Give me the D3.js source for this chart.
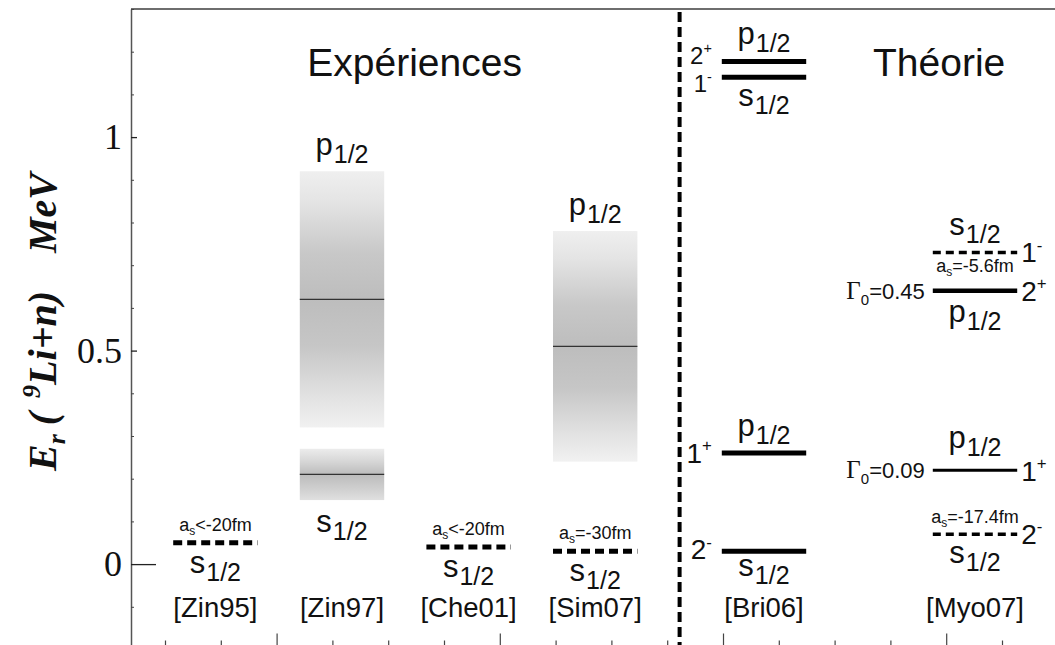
<!DOCTYPE html>
<html>
<head>
<meta charset="utf-8">
<script src="https://cdn.jsdelivr.net/npm/d3@7"></script>
<style>
  body { margin: 0; background: #fff; }
  svg { display: block; font-family: "Liberation Sans", Arial, sans-serif; }
</style>
</head>
<body>
<svg id="chart" width="1055" height="645"></svg>
<script>
// columns: reference and its place on the x axis (axis units)
var refs   = ["Zin95", "Zin97", "Che01", "Sim07", "Bri06", "Myo07"];
var refPos = [2, 5, 8, 11, 15, 20];
var separatorPos = 13;

// sharp levels (MeV)
var lvRef   = ["Zin95", "Che01", "Sim07", "Bri06", "Bri06", "Bri06", "Bri06", "Myo07", "Myo07", "Myo07", "Myo07"];
var lvE     = [0.05, 0.04, 0.03, 1.177, 1.14, 0.26, 0.03, 0.73, 0.64, 0.22, 0.07];
var lvWave  = ["s", "s", "s", "p", "s", "p", "s", "s", "p", "p", "s"];
var lvSpin  = [null, null, null, ["2", "+"], ["1", "-"], ["1", "+"], ["2", "-"], ["1", "-"], ["2", "+"], ["1", "+"], ["2", "-"]];
var lvAs    = ["<-20fm", "<-20fm", "=-30fm", null, null, null, null, "=-5.6fm", null, null, "=-17.4fm"];
var lvGamma = [null, null, null, null, null, null, null, null, "0.45", "0.09", null];

// measured resonance bands (MeV): centre, low and high edge
var bandRef  = ["Zin97", "Zin97", "Sim07"];
var bandE    = [0.62, 0.21, 0.51];
var bandLo   = [0.32, 0.15, 0.24];
var bandHi   = [0.92, 0.27, 0.78];
var bandWave = ["p", "s", "p"];

var yTicks = [0, 0.5, 1];
var yMinor = [-0.2, -0.1, 0.1, 0.2, 0.3, 0.4, 0.6, 0.7, 0.8, 0.9, 1.1, 1.2, 1.3];
var xTicks = [0, 1, 2, 3, 4, 5, 6, 7, 8, 9, 10, 11, 12, 13, 14, 15];

var svg = d3.select("#chart");

var x = d3.scaleLinear().domain([0, 22.5]).range([131, 131 + 22.5 * 42.2]);
var y = d3.scaleLinear().domain([-0.2, 1.3]).range([649.5, 9]);
var xt = d3.scaleLinear().domain([0, 15]).range([165, 1002]);
var half = x(1) - x(0);

function colX(r) { return x(refPos[refs.indexOf(r)]); }

// gradients for the bands
var defs = svg.append("defs");
function grad(id, stops) {
  var g = defs.append("linearGradient").attr("id", id)
      .attr("x1", 0).attr("y1", 0).attr("x2", 0).attr("y2", 1);
  stops.forEach(function (s) {
    g.append("stop").attr("offset", s[0]).attr("stop-color", s[1]);
  });
}
grad("gp", [[0, "#efefef"], [0.12, "#e4e4e4"], [0.32, "#c8c8c8"], [0.5, "#bdbdbd"], [0.68, "#c6c6c6"], [0.88, "#e2e2e2"], [1, "#f1f1f1"]]);
grad("gs", [[0, "#ececec"], [0.25, "#d6d6d6"], [0.5, "#bcbcbc"], [0.75, "#cdcdcd"], [1, "#e0e0e0"]]);

// frame
svg.append("line").attr("x1", 131).attr("x2", 1055).attr("y1", 9).attr("y2", 9)
    .attr("stroke", "#6e6e6e").attr("stroke-width", 2);

// y axis
var yAxis = svg.append("g").attr("transform", "translate(131,0)")
    .call(d3.axisLeft(y).tickValues(yTicks).tickSize(-6).tickSizeOuter(0).tickPadding(9)
      .tickFormat(function (d) { return d; }));
yAxis.select(".domain").attr("stroke", "#555").attr("stroke-width", 1.5);
yAxis.selectAll(".tick line").attr("stroke", "#222").attr("stroke-width", 1.3);
yAxis.selectAll(".tick").filter(function (d) { return d === 0; }).select("line").attr("x2", 25);
yAxis.selectAll(".tick text")
    .attr("font-family", "'Liberation Serif', 'Times New Roman', serif")
    .attr("font-size", 36).attr("fill", "#111");

var yMin = svg.append("g").attr("transform", "translate(131,0)")
    .call(d3.axisLeft(y).tickValues(yMinor).tickSize(-3).tickFormat(""));
yMin.select(".domain").remove();
yMin.selectAll(".tick line").attr("stroke", "#444");

// bottom axis (only the ticks are inside the picture)
var xAxis = svg.append("g").attr("transform", "translate(0,649.5)")
    .call(d3.axisBottom(xt).tickValues(xTicks).tickSize(-9).tickFormat(""));
xAxis.select(".domain").remove();
xAxis.selectAll(".tick line").attr("stroke", "#444").attr("stroke-width", 1.2);
xAxis.selectAll(".tick").filter(function (d) { return d % 4 === 2; }).select("line").attr("y2", -16);

// axis title
var yt = svg.append("text")
    .attr("transform", "translate(56,322) rotate(-90)")
    .attr("text-anchor", "middle")
    .attr("font-family", "'Liberation Serif', 'Times New Roman', serif")
    .attr("font-weight", "bold").attr("font-style", "italic")
    .attr("font-size", 40).attr("fill", "#111");
yt.append("tspan").text("E");
yt.append("tspan").attr("font-size", 26).attr("dy", 9).text("r");
yt.append("tspan").attr("dy", -9).attr("dx", 9).text("(");
yt.append("tspan").attr("font-size", 26).attr("dy", -16).attr("dx", 14).text("9");
yt.append("tspan").attr("dy", 16).text("Li+n)");
yt.append("tspan").attr("dx", 38).text("MeV");

// separator between experiment and theory
svg.append("line")
    .attr("x1", x(separatorPos)).attr("x2", x(separatorPos))
    .attr("y1", 12).attr("y2", 645)
    .attr("stroke", "#000").attr("stroke-width", 4).attr("stroke-dasharray", "10,5");

// titles
svg.append("text").attr("x", x(6.72)).attr("y", 76).attr("text-anchor", "middle")
    .attr("font-size", 39).attr("fill", "#111").text("Expériences");
svg.append("text").attr("x", x(19.15)).attr("y", 76).attr("text-anchor", "middle")
    .attr("font-size", 39).attr("fill", "#111").text("Théorie");

// helpers for labels
function waveLabel(cx, yy, wave) {
  var t = svg.append("text").attr("x", cx).attr("y", yy).attr("text-anchor", "middle")
      .attr("font-size", 31).attr("fill", "#111");
  t.append("tspan").text(wave);
  t.append("tspan").attr("font-size", 25).attr("dy", 8).attr("dx", 1).text("1/2");
}
function asLabel(cx, yy, txt) {
  var t = svg.append("text").attr("x", cx).attr("y", yy).attr("text-anchor", "middle")
      .attr("font-size", 18).attr("fill", "#111");
  t.append("tspan").text("a");
  t.append("tspan").attr("font-size", 12).attr("dy", 4).text("s");
  t.append("tspan").attr("dy", -4).text(txt);
}
function spinLabel(xx, yy, anchor, s, fs) {
  var t = svg.append("text").attr("x", xx).attr("y", yy).attr("text-anchor", anchor)
      .attr("font-size", fs).attr("fill", "#111");
  t.append("tspan").text(s[0]);
  t.append("tspan").attr("font-size", fs * 0.6).attr("dy", -fs * 0.42).text(s[1]);
}
function gammaLabel(xx, yy, g) {
  var t = svg.append("text").attr("x", xx).attr("y", yy).attr("text-anchor", "end")
      .attr("font-size", 22).attr("fill", "#111");
  t.append("tspan").attr("font-family", "'Liberation Serif', serif").attr("font-size", 25).text("Γ");
  t.append("tspan").attr("font-size", 15).attr("dy", 6).text("0");
  t.append("tspan").attr("dy", -6).text("=" + g);
}

// bands
var bands = bandRef.map(function (r, i) {
  return { ref: r, e: bandE[i], lo: bandLo[i], hi: bandHi[i], wave: bandWave[i] };
});
var bandG = svg.append("g");
bandG.selectAll("rect").data(bands).join("rect")
    .attr("x", function (d) { return colX(d.ref) - half; })
    .attr("width", 2 * half)
    .attr("y", function (d) { return y(d.hi); })
    .attr("height", function (d) { return y(d.lo) - y(d.hi); })
    .attr("fill", function (d) { return d.wave === "p" ? "url(#gp)" : "url(#gs)"; });
bandG.selectAll("line").data(bands).join("line")
    .attr("x1", function (d) { return colX(d.ref) - half; })
    .attr("x2", function (d) { return colX(d.ref) + half; })
    .attr("y1", function (d) { return y(d.e); })
    .attr("y2", function (d) { return y(d.e); })
    .attr("stroke", "#333").attr("stroke-width", 1.2);
bands.forEach(function (d) {
  if (d.wave === "p") waveLabel(colX(d.ref), y(d.hi) - 16, d.wave);
  else waveLabel(colX(d.ref), y(d.lo) + 32, d.wave);
});

// sharp levels
var levels = lvRef.map(function (r, i) {
  return { i: i, ref: r, e: lvE[i], wave: lvWave[i], spin: lvSpin[i], as: lvAs[i], gamma: lvGamma[i] };
});
var theory = function (d) { return refPos[refs.indexOf(d.ref)] > separatorPos; };

svg.append("g").selectAll("line").data(levels).join("line")
    .attr("x1", function (d) { return colX(d.ref) - half; })
    .attr("x2", function (d) { return colX(d.ref) + half; })
    .attr("y1", function (d) { return y(d.e); })
    .attr("y2", function (d) { return y(d.e); })
    .attr("stroke", "#000")
    .attr("stroke-width", function (d) {
      if (d.gamma) return +d.gamma > 0.2 ? 4.5 : 3;
      if (d.as) return theory(d) ? 3.5 : 5;
      return 5;
    })
    .attr("stroke-dasharray", function (d) {
      if (!d.as) return null;
      return theory(d) ? "8,5" : "9,5";
    });

// label offsets (px from the level line)
var waveDy = [30, 30, 30, -18, 29, -17, 25, -17, 31, -22, 29];
var asDy   = [-12, -12, -12, 0, 0, 0, 0, 20, 0, 0, -11];
var spinDy = [0, 0, 0, 2, 15, 10, 8, 10, 10, 11, 10];

levels.forEach(function (d) {
  var cx = colX(d.ref), ly = y(d.e);
  waveLabel(cx, ly + waveDy[d.i], d.wave);
  if (d.as) asLabel(cx, ly + asDy[d.i], d.as);
  if (d.spin) {
    if (d.ref === "Myo07") spinLabel(cx + half + 4, ly + spinDy[d.i], "start", d.spin, 28);
    else if (d.e > 1) spinLabel(cx - half - 10, ly + spinDy[d.i], "end", d.spin, 24);
    else spinLabel(cx - half - 10, ly + spinDy[d.i], "end", d.spin, 28);
  }
  if (d.gamma) gammaLabel(cx - half - 8, ly + 8, d.gamma);
});

// reference names
svg.append("g").selectAll("text").data(refs).join("text")
    .attr("x", function (d) { return colX(d); })
    .attr("y", y(0) + 53)
    .attr("text-anchor", "middle")
    .attr("font-size", 27.5).attr("fill", "#111")
    .text(function (d) { return "[" + d + "]"; });
</script>
</body>
</html>
